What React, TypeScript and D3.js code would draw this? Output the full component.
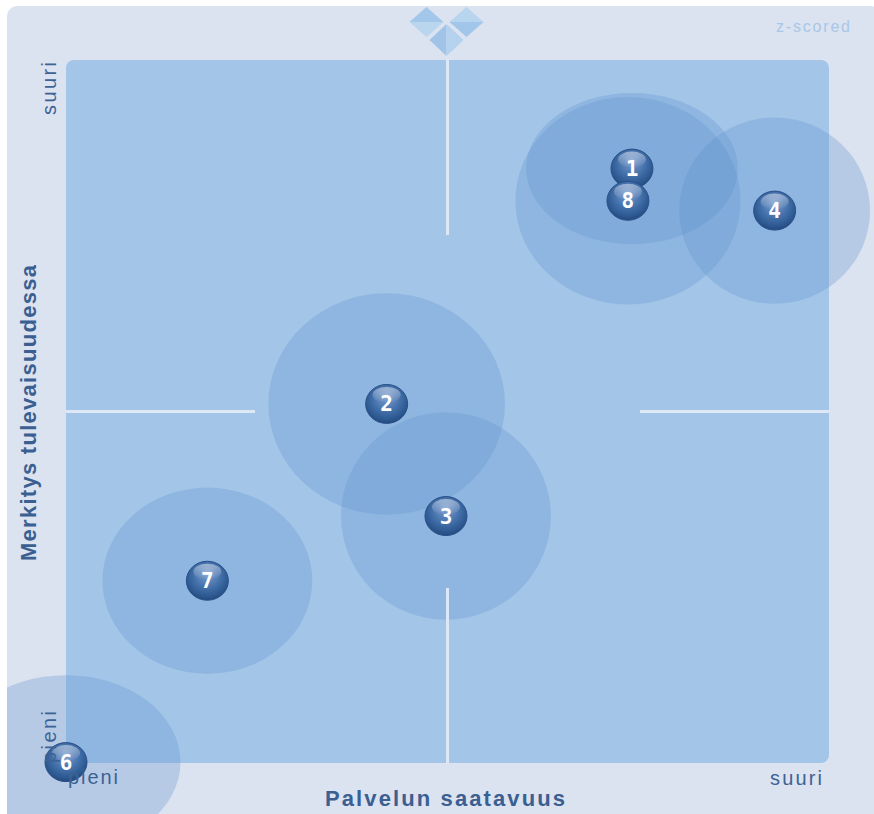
import React from "react";
import * as d3 from "d3";

// ---- data (z-scored) ----
const labels = ["1", "2", "3", "4", "6", "7", "8"];
const xValues = [0.967, -0.319, -0.008, 1.715, -2.0, -1.259, 0.946];
const yValues = [1.382, 0.043, -0.595, 1.143, -1.995, -0.963, 1.199];
const xSpread = [0.555, 0.62, 0.55, 0.5, 0.6, 0.55, 0.59];
const ySpread = [0.43, 0.63, 0.59, 0.53, 0.495, 0.53, 0.59];

const xDomain = [-2, 2];
const yDomain = [-2, 2];
const xTitle = "Palvelun saatavuus";
const yTitle = "Merkitys tulevaisuudessa";
const lowLabel = "pieni";
const highLabel = "suuri";
const cornerNote = "z-scored";

const W = 874;
const H = 814;
const plot = { left: 66, top: 60, right: 829, bottom: 763 };

export default function App() {
  const x = d3.scaleLinear().domain(xDomain).range([plot.left, plot.right]).clamp(true);
  const y = d3.scaleLinear().domain(yDomain).range([plot.bottom, plot.top]).clamp(true);
  const cx = x(0);
  const cy = y(0);
  const rxScale = (v: number) => x(v) - x(0);
  const ryScale = (v: number) => y(0) - y(v);

  const points = labels.map((l, i) => ({
    label: l,
    px: x(xValues[i]),
    py: y(yValues[i]),
    rx: rxScale(xSpread[i]),
    ry: ryScale(ySpread[i]),
  }));

  const textColor = "#3d6394";
  const diamond = (dx: number, dy: number, hw: number, hh: number) => ({
    top: `M${dx - hw},${dy} L${dx},${dy - hh} L${dx + hw},${dy} Z`,
    bottom: `M${dx - hw},${dy} L${dx},${dy + hh} L${dx + hw},${dy} Z`,
    left: `M${dx},${dy - hh} L${dx - hw},${dy} L${dx},${dy + hh} Z`,
    right: `M${dx},${dy - hh} L${dx + hw},${dy} L${dx},${dy + hh} Z`,
  });
  const dl = diamond(cx - 21, 22, 17, 15);
  const dr = diamond(cx + 19, 22, 17, 15);
  const db = diamond(cx - 1, 40, 17, 16);

  return (
    <svg
      width={W}
      height={H}
      style={{ position: "absolute", left: 0, top: 0, display: "block" }}
      xmlns="http://www.w3.org/2000/svg"
    >
      <defs>
        <clipPath id="frameClip">
          <rect x={7} y={6} width={W} height={H + 20} rx={10} />
        </clipPath>
        <radialGradient id="ball" cx="50%" cy="42%" r="60%" fx="50%" fy="30%">
          <stop offset="0%" stopColor="#7d9fd0" />
          <stop offset="50%" stopColor="#4773ad" />
          <stop offset="80%" stopColor="#2f5b94" />
          <stop offset="100%" stopColor="#22477c" />
        </radialGradient>
        <linearGradient id="gloss" x1="0" y1="0" x2="0" y2="1">
          <stop offset="0%" stopColor="#ffffff" stopOpacity={0.45} />
          <stop offset="100%" stopColor="#ffffff" stopOpacity={0} />
        </linearGradient>
      </defs>

      <rect x={7} y={6} width={W} height={H + 20} rx={10} fill="#dbe2f0" />
      <rect
        x={plot.left}
        y={plot.top}
        width={plot.right - plot.left}
        height={plot.bottom - plot.top}
        rx={8}
        fill="#a3c6e8"
      />

      {/* logo */}
      <g>
        <path d={dl.top} fill="#a3c7ea" />
        <path d={dl.bottom} fill="#bad6ef" />
        <path d={dr.top} fill="#b8d5ef" />
        <path d={dr.bottom} fill="#a2c6e9" />
        <path d={db.left} fill="#9fc4e8" />
        <path d={db.right} fill="#b4d2ee" />
      </g>

      <text
        x={850}
        y={32}
        textAnchor="end"
        fontFamily="Liberation Sans, Arial, sans-serif"
        fontSize={16}
        fill="#a9c7e7"
        textLength={74}
        lengthAdjust="spacing"
      >
        {cornerNote}
      </text>

      {/* spread ellipses */}
      <g clipPath="url(#frameClip)">
        {points.map((p) => (
          <ellipse
            key={"e" + p.label}
            cx={p.px}
            cy={p.py}
            rx={p.rx}
            ry={p.ry}
            fill="rgb(95,145,205)"
            fillOpacity={0.3}
          />
        ))}
      </g>

      {/* crosshair */}
      <g stroke="#e2eaf6" strokeWidth={3} strokeOpacity={0.95}>
        <line x1={cx} x2={cx} y1={plot.top} y2={235} />
        <line x1={cx} x2={cx} y1={588} y2={plot.bottom} />
        <line x1={plot.left} x2={255} y1={cy} y2={cy} />
        <line x1={640} x2={plot.right} y1={cy} y2={cy} />
      </g>

      {/* markers */}
      {points.map((p) => (
        <g key={"m" + p.label} transform={`translate(${p.px},${p.py})`}>
          <ellipse rx={21} ry={19.5} fill="url(#ball)" stroke="#2a5088" strokeWidth={1} />
          <ellipse cx={0} cy={-9} rx={14} ry={8} fill="url(#gloss)" />
          <text
            y={7.5}
            textAnchor="middle"
            fontFamily="DejaVu Sans Mono, monospace"
            fontWeight="bold"
            fontSize={21}
            fill="#ffffff"
          >
            {p.label}
          </text>
        </g>
      ))}

      {/* axis end labels */}
      <g fontFamily="Liberation Sans, Arial, sans-serif" fontSize={20} fill={textColor}>
        <text x={68} y={784} textLength={50} lengthAdjust="spacing">
          {lowLabel}
        </text>
        <text x={822} y={785} textAnchor="end" textLength={52} lengthAdjust="spacing">
          {highLabel}
        </text>
        <text
          transform={`translate(56,${plot.bottom}) rotate(-90)`}
          textLength={52}
          lengthAdjust="spacing"
        >
          {lowLabel}
        </text>
        <text
          transform={`translate(56,${plot.top + 55}) rotate(-90)`}
          textLength={53}
          lengthAdjust="spacing"
        >
          {highLabel}
        </text>
      </g>

      {/* axis titles */}
      <g fontFamily="Liberation Sans, Arial, sans-serif" fontWeight="bold" fontSize={22} fill="#3a5f90">
        <text x={445} y={806} textAnchor="middle" textLength={240} lengthAdjust="spacing">
          {xTitle}
        </text>
        <text
          transform={`translate(36,${413}) rotate(-90)`}
          textAnchor="middle"
          textLength={296}
          lengthAdjust="spacing"
        >
          {yTitle}
        </text>
      </g>
    </svg>
  );
}
